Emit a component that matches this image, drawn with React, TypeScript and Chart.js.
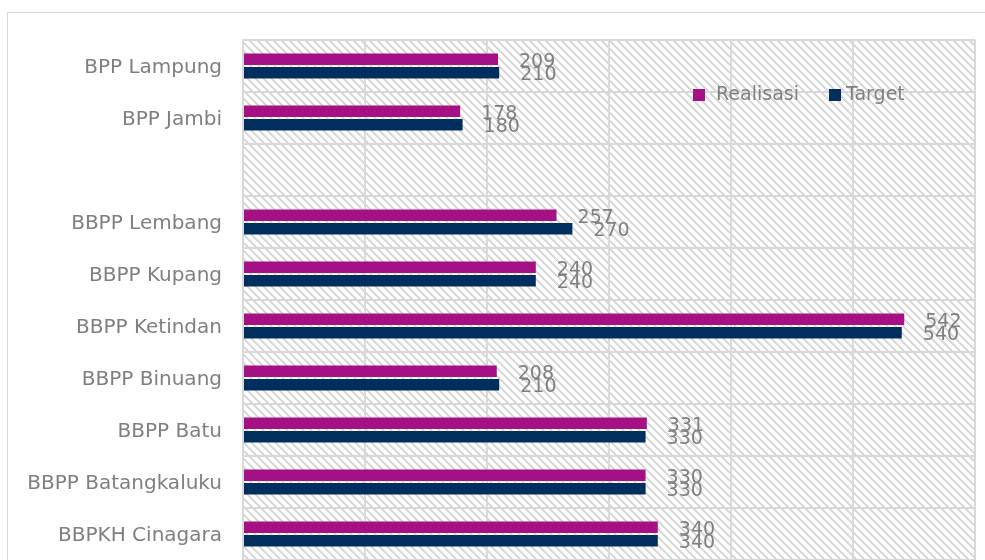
import React, { useEffect, useRef } from 'react';
import { Chart, registerables } from 'chart.js';

Chart.register(...registerables);

const categories = [
  'BPP Lampung',
  'BPP Jambi',
  '',
  'BBPP Lembang',
  'BBPP Kupang',
  'BBPP Ketindan',
  'BBPP Binuang',
  'BBPP Batu',
  'BBPP Batangkaluku',
  'BBPKH Cinagara',
];
const realisasi = [209, 178, null, 257, 240, 542, 208, 331, 330, 340];
const target = [210, 180, null, 270, 240, 540, 210, 330, 330, 340];
const xTicks = [0, 100, 200, 300, 400, 500, 600];
const seriesNames = ['Realisasi', 'Target'];
const seriesColors = ['#A51084', '#002E5E'];

const FONT = '"DejaVu Sans", sans-serif';
const TEXT_GRAY = '#7f7f7f';
const GRID = '#d9d9d9';

function makePattern(ctx: CanvasRenderingContext2D) {
  const c = document.createElement('canvas');
  c.width = 8;
  c.height = 8;
  const p = c.getContext('2d')!;
  p.fillStyle = '#ffffff';
  p.fillRect(0, 0, 8, 8);
  p.fillStyle = '#dadada';
  for (let y = 0; y < 8; y++) {
    for (let x = 0; x < 8; x++) {
      const d = (((x - y) % 8) + 8) % 8;
      if (d < 3) p.fillRect(x, y, 1, 1);
    }
  }
  return ctx.createPattern(c, 'repeat');
}

const hatchPlugin = {
  id: 'hatchBg',
  beforeDraw(chart: any) {
    const { ctx, chartArea } = chart;
    if (!chartArea) return;
    ctx.save();
    ctx.fillStyle = makePattern(ctx) || '#eee';
    ctx.fillRect(chartArea.left, chartArea.top, chartArea.right - chartArea.left, chartArea.bottom - chartArea.top);
    ctx.restore();
  },
};

const valueLabelPlugin = {
  id: 'valueLabels',
  afterDatasetsDraw(chart: any) {
    const ctx = chart.ctx;
    ctx.save();
    ctx.font = '19px ' + FONT;
    ctx.fillStyle = TEXT_GRAY;
    ctx.textBaseline = 'middle';
    ctx.textAlign = 'left';
    chart.data.datasets.forEach((ds: any, di: number) => {
      const meta = chart.getDatasetMeta(di);
      meta.data.forEach((el: any, i: number) => {
        const v = ds.data[i];
        if (v == null) return;
        ctx.fillText(String(v), el.x + 21, el.y + 2.5);
      });
    });
    ctx.restore();
  },
};

const legendPlugin = {
  id: 'innerLegend',
  afterDatasetsDraw(chart: any) {
    const ctx = chart.ctx;
    const boxX = [693, 829];
    const textX = [716, 846];
    const cy = 95;
    ctx.save();
    ctx.font = '19px ' + FONT;
    ctx.textBaseline = 'middle';
    ctx.textAlign = 'left';
    chart.data.datasets.forEach((ds: any, i: number) => {
      ctx.fillStyle = ds.backgroundColor;
      ctx.fillRect(boxX[i], cy - 6, 12, 12);
      ctx.fillStyle = TEXT_GRAY;
      ctx.fillText(ds.label, textX[i], cy);
    });
    ctx.restore();
  },
};

export default function App() {
  const ref = useRef<HTMLCanvasElement>(null);

  useEffect(() => {
    if (!ref.current) return;
    const chart = new Chart(ref.current, {
      type: 'bar',
      data: {
        labels: categories,
        datasets: [
          {
            label: seriesNames[0],
            data: realisasi,
            backgroundColor: seriesColors[0],
            categoryPercentage: 0.52,
            barPercentage: 0.86,
          },
          {
            label: seriesNames[1],
            data: target,
            backgroundColor: seriesColors[1],
            categoryPercentage: 0.52,
            barPercentage: 0.86,
          },
        ],
      },
      options: {
        indexAxis: 'y',
        responsive: false,
        animation: false,
        maintainAspectRatio: false,
        layout: { autoPadding: false, padding: { top: 40, right: 10, bottom: 0, left: 0 } },
        plugins: {
          legend: { display: false },
          tooltip: { enabled: false },
        },
        scales: {
          x: {
            min: xTicks[0],
            max: xTicks[xTicks.length - 1],
            ticks: { display: false, stepSize: 100 },
            grid: { color: GRID, lineWidth: 2, drawTicks: false },
            border: { display: false },
            afterFit: (s: any) => {
              s.height = 0;
              s.paddingLeft = 0;
              s.paddingRight = 0;
            },
          },
          y: {
            ticks: {
              color: TEXT_GRAY,
              font: { family: FONT, size: 20 },
              padding: 21,
              labelOffset: 2,
            },
            grid: { color: GRID, lineWidth: 2, drawTicks: false, offset: true },
            border: { display: true, color: GRID, width: 2 },
            afterFit: (s: any) => {
              s.width = 243;
              s.paddingTop = 0;
              s.paddingBottom = 0;
            },
          },
        },
      },
      plugins: [hatchPlugin, valueLabelPlugin, legendPlugin],
    } as any);
    return () => chart.destroy();
  }, []);

  return (
    <div
      style={{
        position: 'fixed',
        left: 0,
        top: 0,
        width: 985,
        height: 560,
        overflow: 'hidden',
        background: '#ffffff',
      }}
    >
      <div
        style={{
          position: 'absolute',
          left: 7,
          top: 12,
          width: 1000,
          height: 600,
          border: '1px solid #d9d9d9',
        }}
      />
      <canvas
        ref={ref}
        width={985}
        height={560}
        style={{ position: 'absolute', left: 0, top: 0, width: 985, height: 560 }}
      />
    </div>
  );
}
